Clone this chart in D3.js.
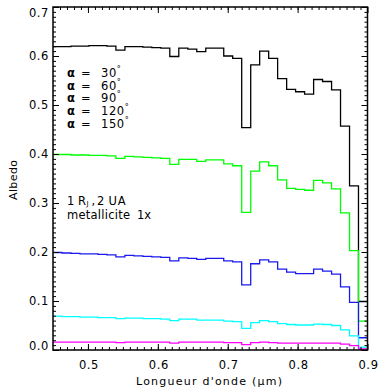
<!DOCTYPE html>
<html><head><meta charset="utf-8">
<script src="https://cdn.jsdelivr.net/npm/d3@7"></script>
<style>
html,body{margin:0;padding:0;background:#fff;}
svg{display:block;}
text{font-family:"DejaVu Sans",sans-serif;fill:#000;}
</style></head>
<body>
<svg id="chart" width="379" height="389"></svg>
<script>
// Bin edges (µm), 35 bins from 0.45 to 0.90
const binEdges = [0.4500,0.4629,0.4757,0.4886,0.5014,0.5143,0.5271,0.5400,0.5529,0.5657,
  0.5786,0.5914,0.6043,0.6171,0.6300,0.6429,0.6557,0.6686,0.6814,0.6943,
  0.7071,0.7200,0.7329,0.7457,0.7586,0.7714,0.7843,0.7971,0.8100,0.8229,
  0.8357,0.8486,0.8614,0.8743,0.8871,0.9000];

const albedo30 = [0.619,0.619,0.620,0.620,0.621,0.621,0.620,0.612,0.619,0.619,
  0.618,0.617,0.616,0.599,0.616,0.614,0.609,0.616,0.616,0.600,
  0.595,0.454,0.582,0.610,0.595,0.554,0.532,0.527,0.522,0.552,
  0.548,0.531,0.457,0.335,0.099];
const albedo60 = [0.399,0.399,0.398,0.398,0.397,0.397,0.396,0.391,0.395,0.394,
  0.393,0.392,0.391,0.379,0.389,0.389,0.385,0.388,0.388,0.380,
  0.376,0.281,0.365,0.384,0.376,0.347,0.330,0.328,0.326,0.346,
  0.341,0.329,0.280,0.203,0.059];
const albedo90 = [0.199,0.198,0.197,0.196,0.196,0.195,0.194,0.190,0.193,0.192,
  0.191,0.190,0.189,0.182,0.188,0.187,0.185,0.187,0.187,0.182,
  0.180,0.133,0.176,0.184,0.180,0.165,0.159,0.156,0.156,0.165,
  0.161,0.155,0.129,0.097,0.025];
const albedo120 = [0.069,0.068,0.068,0.067,0.067,0.066,0.066,0.064,0.065,0.065,
  0.064,0.064,0.063,0.060,0.063,0.063,0.061,0.061,0.061,0.059,
  0.058,0.044,0.056,0.060,0.058,0.054,0.052,0.051,0.051,0.053,
  0.052,0.050,0.041,0.029,0.006];
const albedo150 = [0.016,0.016,0.016,0.016,0.016,0.016,0.016,0.015,0.016,0.016,
  0.016,0.016,0.016,0.014,0.016,0.016,0.016,0.016,0.016,0.015,
  0.015,0.011,0.015,0.016,0.015,0.014,0.014,0.014,0.014,0.014,
  0.014,0.014,0.012,0.009,0.002];

const seriesNames = ["30","60","90","120","150"];
const seriesColors = ["#000000","#00ff00","#1a1aee","#00ffff","#ff00ff"];
const seriesValues = [albedo30, albedo60, albedo90, albedo120, albedo150];

const xTickValues = [0.5,0.6,0.7,0.8,0.9];
const xTickLabels = ["0.5","0.6","0.7","0.8","0.9"];
const yTickValues = [0.0,0.1,0.2,0.3,0.4,0.5,0.6,0.7];
const yTickLabels = ["0.0","0.1","0.2","0.3","0.4","0.5","0.6","0.7"];

const xTitle = "Longueur d'onde (\u03bcm)";
const yTitle = "Albedo";

const W = 379, H = 389;
const m = {left:53, right:11.5, top:7, bottom:39};
const svg = d3.select("#chart");
const x = d3.scaleLinear().domain([0.45,0.90]).range([m.left, W-m.right]);
const y = d3.scaleLinear().domain([0,0.7]).range([H-m.bottom, m.top]);

svg.append("clipPath").attr("id","clip").append("rect")
  .attr("x",m.left).attr("y",m.top).attr("width",W-m.left-m.right).attr("height",H-m.top-m.bottom);

// step lines
const line = d3.line().x(d=>x(d[0])).y(d=>y(d[1])).curve(d3.curveStepAfter);
const g = svg.append("g").attr("clip-path","url(#clip)");
seriesValues.forEach((vals,i)=>{
  const pts = vals.map((v,k)=>[binEdges[k],v]);
  pts.push([binEdges[binEdges.length-1], vals[vals.length-1]]);
  g.append("path").datum(pts).attr("d",line)
    .attr("fill","none").attr("stroke",seriesColors[i]).attr("stroke-width",1.3);
});

const xMinor = d3.range(46,90).map(v=>v/100);
const yMinor = d3.range(1,70).map(v=>v/100);

function ax(gen, tx, ty, vals, size){
  const a = svg.append("g").attr("transform",`translate(${tx},${ty})`)
    .call(gen.tickValues(vals).tickSize(size).tickFormat(""));
  a.select(".domain").remove();
  a.selectAll("line").attr("stroke","#000").attr("stroke-width",1);
}
const xb = H-m.bottom, xt = m.top, yl = m.left, yr = W-m.right;
ax(d3.axisBottom(x), 0, xb, xMinor, -3);
ax(d3.axisBottom(x), 0, xb, xTickValues, -6);
ax(d3.axisTop(x), 0, xt, xMinor, -3);
ax(d3.axisTop(x), 0, xt, xTickValues, -6);
ax(d3.axisLeft(y), yl, 0, yMinor, -3);
ax(d3.axisLeft(y), yl, 0, yTickValues, -6);
ax(d3.axisRight(y), yr, 0, yMinor, -3);
ax(d3.axisRight(y), yr, 0, yTickValues, -6);

svg.append("rect").attr("x",m.left).attr("y",m.top)
  .attr("width",W-m.left-m.right).attr("height",H-m.top-m.bottom)
  .attr("fill","none").attr("stroke","#000").attr("stroke-width",1.5);

// tick labels
const tf = 11.5;
svg.append("g").selectAll("text").data(xTickValues).join("text")
  .attr("x",d=>x(d)+1).attr("y",369).attr("text-anchor","middle")
  .attr("font-size",tf).attr("letter-spacing",0.6)
  .text((d,i)=>xTickLabels[i]);
svg.append("g").selectAll("text").data(yTickValues).join("text")
  .attr("x",49).attr("y",d=>Math.max(12.5,Math.min(346,y(d)))+4.3).attr("text-anchor","end")
  .attr("font-size",tf).attr("letter-spacing",0.6)
  .text((d,i)=>yTickLabels[i]);

// axis titles
svg.append("text").attr("x",136).attr("y",385)
  .attr("font-size",11).attr("textLength",146).attr("lengthAdjust","spacing").text(xTitle);
svg.append("text").attr("transform",`translate(17,200) rotate(-90)`)
  .attr("font-size",11).attr("textLength",40).attr("lengthAdjust","spacing").text(yTitle);

// legend (text only, black)
const lg = svg.append("g").attr("font-size",11.5);
seriesNames.forEach((nm,i)=>{
  const t = lg.append("text").attr("y",77+i*12.7);
  t.append("tspan").attr("x",67).attr("font-weight","bold").text("\u03b1");
  t.append("tspan").attr("x",81).text("=");
  t.append("tspan").attr("x",101).attr("letter-spacing",0.6).text(nm);
  t.append("tspan").attr("dy",-5).attr("font-size",8).text("\u00b0");
});
const info = svg.append("g").attr("font-size",11.5);
const t1 = info.append("text").attr("y",205);
t1.append("tspan").attr("x",67).text("1");
t1.append("tspan").attr("x",78).text("R");
t1.append("tspan").attr("x",86.5).attr("dy",1.2).attr("font-size",7).text("J");
t1.append("tspan").attr("x",91.5).attr("dy",-1.2).text(",");
info.append("text").attr("x",97).attr("y",205).text("2");
info.append("text").attr("x",108.5).attr("y",205).attr("letter-spacing",0.8).text("UA");
info.append("text").attr("x",67).attr("y",218.5).attr("textLength",63).attr("lengthAdjust","spacing").text("metallicite");
info.append("text").attr("x",137).attr("y",218.5).attr("textLength",14).attr("lengthAdjust","spacing").text("1x");
</script>
</body></html>
